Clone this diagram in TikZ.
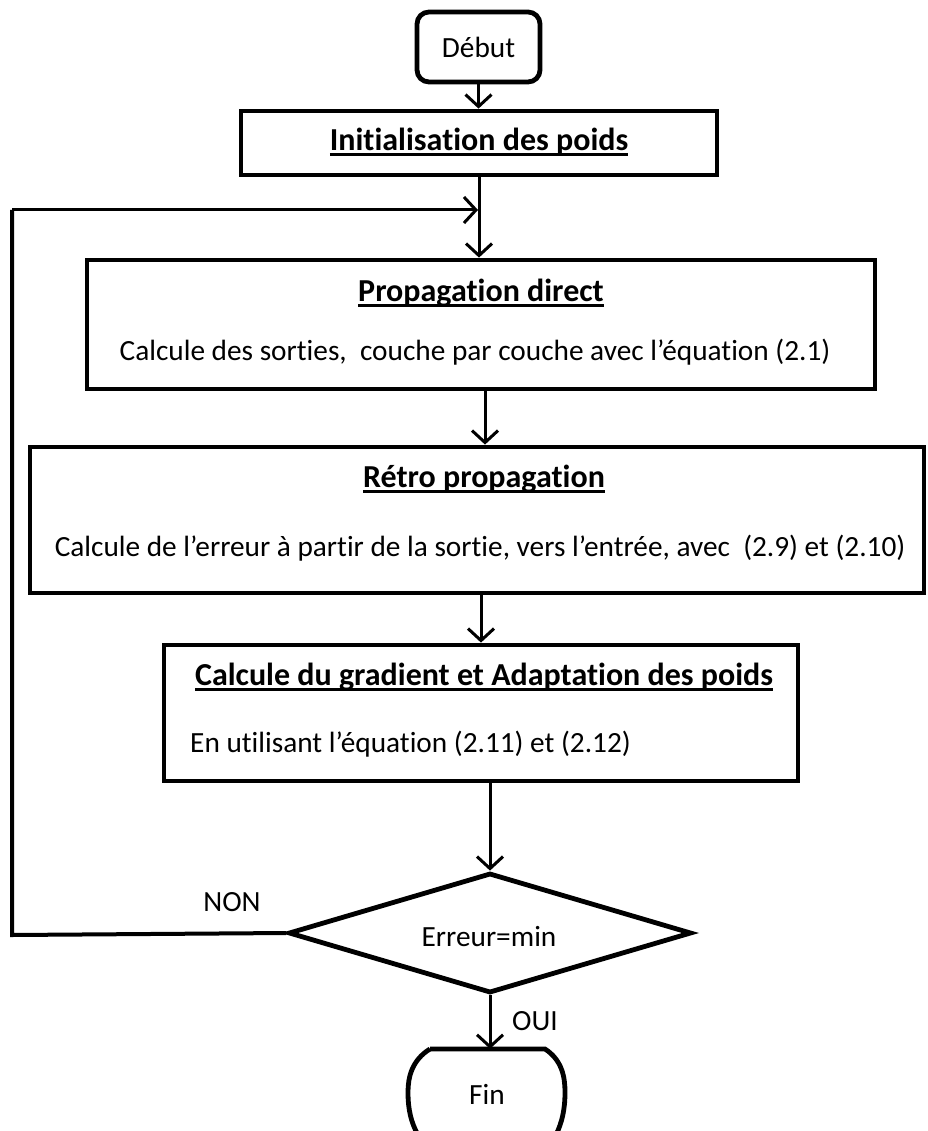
\documentclass[tikz,border=0pt]{standalone}
\usepackage{fontspec}
\setmainfont{Carlito}[Ligatures=NoCommon]
\newcommand\ulbox[1]{\leavevmode\setbox0\hbox{#1}\rlap{\rule[-5pt]{\wd0}{2.6pt}}\box0}
\usetikzlibrary{arrows.meta,shapes.geometric}
\begin{document}
\begin{tikzpicture}[x=1pt,y=-1pt,
  box/.style={draw,line width=4.8pt,inner sep=0pt},
  flow/.style={line width=3pt,-{Straight Barb[length=12pt,width=26pt,line width=3pt]}},
  txt/.style={font=\fontsize{29.3}{34}\selectfont,inner sep=0pt},
  ttl/.style={font=\fontsize{32}{36}\selectfont\bfseries,inner sep=0pt}]
\useasboundingbox (0,0) rectangle (927,1131);
% boxes
\node[box,rounded corners=12pt,minimum width=123pt,minimum height=70pt,txt] (debut) at (478.5,47) {Début};
\node[box,minimum width=476pt,minimum height=64pt] (init) at (479,143) {};
\node[ttl] (initt) at (479,142) {\ulbox{Initialisation des poids}};
\node[box,minimum width=788pt,minimum height=129pt] (prop) at (481,324.5) {};
\node[ttl] (propt) at (481,293) {\ulbox{Propagation direct}};
\node[txt] (propb) at (475,352) {Calcule des sorties,\ \ couche par couche avec l’équation (2.1)};
\node[box,minimum width=894pt,minimum height=146pt] (retro) at (477,520) {};
\node[ttl] (retrot) at (484,479) {\ulbox{Rétro propagation}};
\node[txt] (retrob) at (480,548) {Calcule de l’erreur à partir de la sortie, vers l’entrée, avec\ \ (2.9) et (2.10)};
\node[box,minimum width=634pt,minimum height=136pt] (calc) at (481,713) {};
\node[ttl] (calct) at (484,677) {\ulbox{Calcule du gradient et Adaptation des poids}};
\node[txt,anchor=west] (calcb) at (190,744) {En utilisant l’équation (2.11) et (2.12)};
\node[box,diamond,minimum width=403pt,minimum height=120pt] (dec) at (490,933) {};
\node[txt] (dect) at (489,937) {Erreur=min};
\node[txt,minimum width=155pt,minimum height=90pt] (fin) at (487,1094) {Fin};
\draw[line width=4.8pt] (430,1049) -- (545,1049)
  .. controls (562,1060) and (565,1077) .. (565,1092)
  .. controls (565,1110) and (562,1122) .. (556,1135);
\draw[line width=4.8pt] (430,1049)
  .. controls (412,1060) and (408,1077) .. (408,1092)
  .. controls (408,1110) and (411,1122) .. (418,1135);
% labels
\node[txt] (non) at (232,902) {NON};
\node[txt] (oui) at (535,1021) {OUI};
% connectors
\draw[flow] (debut.south) -- (debut.south |- init.north);
\draw[flow] (init.south) -- (init.south |- prop.north);
\draw[flow] ([xshift=4pt]prop.south) -- ([xshift=4pt]prop.south |- retro.north);
\draw[flow] ([xshift=4pt]retro.south) -- ([xshift=4pt]retro.south |- calc.north);
\draw[flow] (dec.north |- calc.south) -- (dec.north);
\draw[flow] (dec.south) -- (dec.south |- fin.north);
\coordinate (lb) at (12,935);
\coordinate (lt) at (12,210);
\coordinate (join) at (478,210);
\draw[line width=4pt] (dec.west) -- (lb) -- (lt);
\draw[flow] (lt) -- (join);
\end{tikzpicture}
\end{document}
